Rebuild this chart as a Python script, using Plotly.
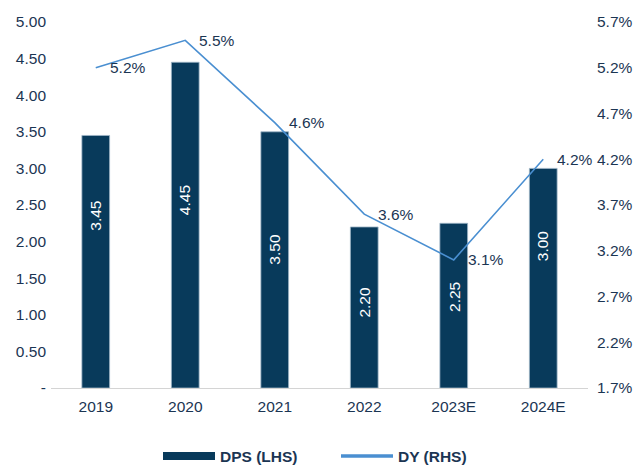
import plotly.graph_objects as go

# Dividend per share (left axis) and dividend yield (right axis)
years = ["2019", "2020", "2021", "2022", "2023E", "2024E"]
dps = [3.45, 4.45, 3.50, 2.20, 2.25, 3.00]
dy = [5.2, 5.5, 4.6, 3.6, 3.1, 4.2]

# vertical placement of the rotated value labels inside each bar (left-axis units)
dps_label_y = [2.35, 2.57, 1.90, 1.17, 1.24, 1.94]

left_ticks = [0, 0.5, 1.0, 1.5, 2.0, 2.5, 3.0, 3.5, 4.0, 4.5, 5.0]
right_ticks = [1.7, 2.2, 2.7, 3.2, 3.7, 4.2, 4.7, 5.2, 5.7]

NAVY = "#083a5b"
BLUE = "#4a8fd1"
TEXT = "#1b3553"
FONT = "Liberation Sans, Arial, sans-serif"
FS = 15.5

fig = go.Figure()

fig.add_trace(go.Bar(
    x=years, y=dps, name="DPS (LHS)",
    marker=dict(color=NAVY, line=dict(color="#9fb6c8", width=0.8)),
    width=0.31, showlegend=False, hoverinfo="x+y",
))

fig.add_trace(go.Scatter(
    x=years, y=dy, name="DY (RHS)", yaxis="y2", mode="lines",
    line=dict(color=BLUE, width=1.6),
    showlegend=False, cliponaxis=False,
))

# yield labels to the right of each line point
for i, v in enumerate(dy):
    fig.add_annotation(
        x=i, y=v, xref="x", yref="y2", text=f"{v:.1f}%",
        xanchor="left", yanchor="middle", xshift=12, showarrow=False,
        font=dict(family=FONT, size=FS, color=TEXT),
    )

# rotated value labels in the bars (x given as category index)
for i, (v, ly) in enumerate(zip(dps, dps_label_y)):
    fig.add_annotation(
        x=i, y=ly, xref="x", yref="y", text=f"{v:.2f}", textangle=-90,
        showarrow=False, font=dict(family=FONT, size=FS, color="white"),
    )

# legend drawn below the axis
L, R, T, B = 51, 588, 22, 388
W, H = R - L, B - T


def px(xp):
    return (xp - L) / W


def py(yp):
    return (B - yp) / H


fig.add_shape(type="rect", xref="paper", yref="paper",
              x0=px(163), x1=px(215), y0=py(460), y1=py(452),
              fillcolor=NAVY, line=dict(width=0))
fig.add_shape(type="line", xref="paper", yref="paper",
              x0=px(341), x1=px(393), y0=py(456), y1=py(456),
              line=dict(color=BLUE, width=3.5))
fig.add_annotation(xref="paper", yref="paper", x=px(218), y=py(457),
                   xanchor="left", yanchor="middle", showarrow=False,
                   text="<b>DPS (LHS)</b>", font=dict(family=FONT, size=FS, color=TEXT))
fig.add_annotation(xref="paper", yref="paper", x=px(396), y=py(457),
                   xanchor="left", yanchor="middle", showarrow=False,
                   text="<b>DY (RHS)</b>", font=dict(family=FONT, size=FS, color=TEXT))

fig.update_layout(
    width=635, height=466,
    margin=dict(l=L, r=635 - R, t=T, b=466 - B, autoexpand=False),
    paper_bgcolor="white", plot_bgcolor="white",
    font=dict(family=FONT, size=FS, color=TEXT),
    xaxis=dict(
        type="category", range=[-0.5, len(years) - 0.5], automargin=False,
        showgrid=False, showline=True, linecolor="#d4d4d4",
        linewidth=1, ticks="", tickfont=dict(size=FS, color=TEXT),
        ticklabelstandoff=4,
    ),
    yaxis=dict(
        range=[0, 5], tickvals=left_ticks, automargin=False,
        ticktext=["-" if v == 0 else f"{v:.2f}" for v in left_ticks],
        showgrid=False, zeroline=False, showline=False, ticks="",
        tickfont=dict(size=FS, color=TEXT), ticklabelstandoff=4,
    ),
    yaxis2=dict(
        range=[1.7, 5.7], tickvals=right_ticks, automargin=False,
        ticktext=[f"{v:.1f}%" for v in right_ticks],
        overlaying="y", side="right", showgrid=False, zeroline=False,
        showline=False, ticks="", tickfont=dict(size=FS, color=TEXT),
        ticklabelstandoff=8,
    ),
)

fig.write_html("out.html")
